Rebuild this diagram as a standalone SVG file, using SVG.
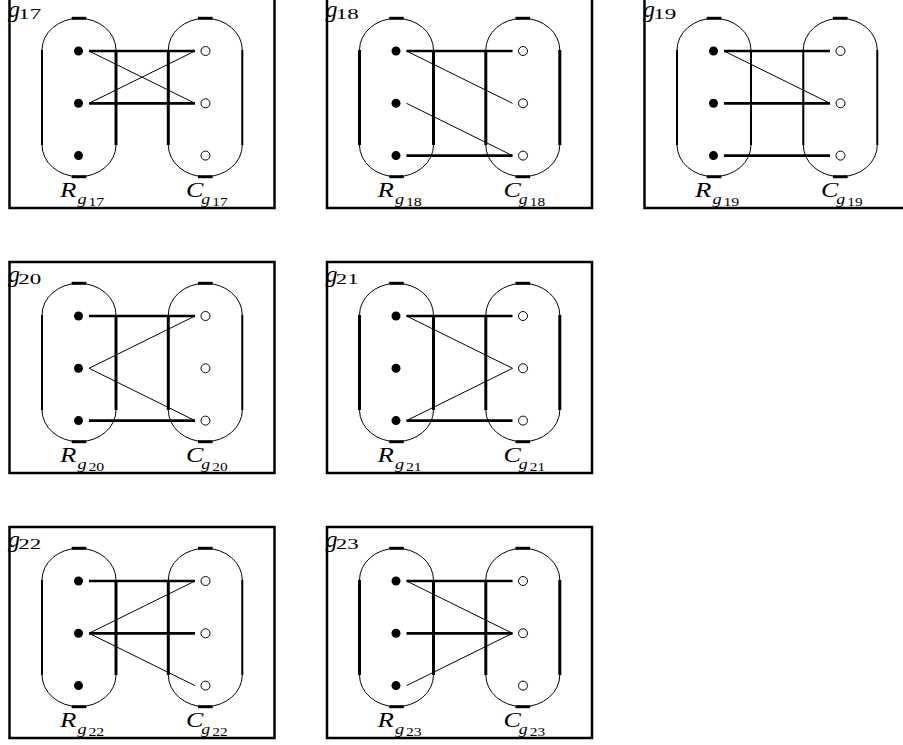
<svg xmlns="http://www.w3.org/2000/svg" xmlns:xlink="http://www.w3.org/1999/xlink" width="903" height="745" viewBox="0 0 903 745">
<style>
.frame{fill:none;stroke:#000;stroke-width:2.5}
.oval{fill:none;stroke:#000;stroke-width:1}
.side{stroke:#000;stroke-width:2}
.side.thick{stroke-width:3}
.mark{stroke:#000;stroke-width:3}
.row{fill:#000}
.col{fill:#fff;stroke:#000;stroke-width:1}
.m{stroke:#000;stroke-width:2.7;fill:none}
.e{stroke:#000;stroke-width:1;fill:none}
text{font-family:"Liberation Serif","Times New Roman",serif;fill:#000}
.it{font-style:italic}
.big{font-size:22px}
.sub{font-size:15px}
.sub2{font-size:13px}
.tg{font-size:24px;font-style:italic}
.tn{font-size:15px}
</style>
<defs>
<path id="oval" class="oval" d="M -37 53 A 37 31.7 0 0 1 37 53 L 37 148 A 37 31.7 0 0 1 -37 148 Z"/>
<g id="marks"><line class="mark" x1="-7.3" y1="21.3" x2="7.3" y2="21.3"/><line class="mark" x1="-7.3" y1="179.7" x2="7.3" y2="179.7"/></g>
<g id="nodesR"><circle class="row" cx="69" cy="54" r="4.5"/><circle class="row" cx="69" cy="106.3" r="4.5"/><circle class="row" cx="69" cy="158.6" r="4.5"/></g>
<g id="nodesC"><circle class="col" cx="196" cy="54" r="4.5"/><circle class="col" cx="196" cy="106.3" r="4.5"/><circle class="col" cx="196" cy="158.6" r="4.5"/></g>
</defs>
<rect x="0" y="0" width="903" height="745" fill="#fff"/>

<!-- g17 -->
<g id="g17" transform="translate(9.5,-3)">
<rect class="frame" x="0" y="0" width="265" height="211"/>
<g id="g17-R"><use xlink:href="#oval" x="69.5"/><use xlink:href="#marks" x="69.5"/><line class="side" x1="32.5" y1="53" x2="32.5" y2="148"/><line class="side thick" x1="106.5" y1="53" x2="106.5" y2="148"/><use xlink:href="#nodesR"/></g>
<g id="g17-C"><use xlink:href="#oval" x="195.8"/><use xlink:href="#marks" x="195.8"/><line class="side thick" x1="158.8" y1="53" x2="158.8" y2="148"/><line class="side" x1="232.8" y1="53" x2="232.8" y2="148"/><use xlink:href="#nodesC"/></g>
<g id="g17-edges"><line class="m" x1="79.5" y1="54" x2="185.5" y2="54"/><line class="m" x1="79.5" y1="106.3" x2="185.5" y2="106.3"/><line class="e" x1="79.5" y1="54" x2="185.5" y2="106.3"/><line class="e" x1="79.5" y1="106.3" x2="185.5" y2="54"/></g>
<text class="tg" x="-1.5" y="20">g</text><text class="tn" x="8.8" y="21.5" textLength="23" lengthAdjust="spacingAndGlyphs">17</text>
<text transform="translate(50.5,200) scale(1.22,1)"><tspan class="it big" x="0" y="0">R</tspan><tspan class="it sub" x="14.3" y="6.5">g</tspan><tspan class="sub2" x="23.3" y="8.5">17</tspan></text>
<text transform="translate(176.5,200) scale(1.18,1)"><tspan class="it big" x="0" y="0">C</tspan><tspan class="it sub" x="13" y="6.5">g</tspan><tspan class="sub2" x="22.3" y="8.5">17</tspan></text>
</g>

<!-- g18 -->
<g id="g18" transform="translate(327,-3)">
<rect class="frame" x="0" y="0" width="265" height="211"/>
<g id="g18-R"><use xlink:href="#oval" x="69.5"/><use xlink:href="#marks" x="69.5"/><line class="side thick" x1="32.5" y1="53" x2="32.5" y2="148"/><line class="side thick" x1="106.5" y1="53" x2="106.5" y2="148"/><use xlink:href="#nodesR"/></g>
<g id="g18-C"><use xlink:href="#oval" x="195.8"/><use xlink:href="#marks" x="195.8"/><line class="side thick" x1="158.8" y1="53" x2="158.8" y2="148"/><line class="side thick" x1="232.8" y1="53" x2="232.8" y2="148"/><use xlink:href="#nodesC"/></g>
<g id="g18-edges"><line class="m" x1="79.5" y1="54" x2="185.5" y2="54"/><line class="m" x1="79.5" y1="158.6" x2="185.5" y2="158.6"/><line class="e" x1="79.5" y1="54" x2="185.5" y2="106.3"/><line class="e" x1="79.5" y1="106.3" x2="185.5" y2="158.6"/></g>
<text class="tg" x="-1.5" y="20">g</text><text class="tn" x="8.8" y="21.5" textLength="23" lengthAdjust="spacingAndGlyphs">18</text>
<text transform="translate(50.5,200) scale(1.22,1)"><tspan class="it big" x="0" y="0">R</tspan><tspan class="it sub" x="14.3" y="6.5">g</tspan><tspan class="sub2" x="23.3" y="8.5">18</tspan></text>
<text transform="translate(176.5,200) scale(1.18,1)"><tspan class="it big" x="0" y="0">C</tspan><tspan class="it sub" x="13" y="6.5">g</tspan><tspan class="sub2" x="22.3" y="8.5">18</tspan></text>
</g>

<!-- g19 -->
<g id="g19" transform="translate(644.5,-3)">
<rect class="frame" x="0" y="0" width="265" height="211"/>
<g id="g19-R"><use xlink:href="#oval" x="69.5"/><use xlink:href="#marks" x="69.5"/><line class="side" x1="32.5" y1="53" x2="32.5" y2="148"/><line class="side" x1="106.5" y1="53" x2="106.5" y2="148"/><use xlink:href="#nodesR"/></g>
<g id="g19-C"><use xlink:href="#oval" x="195.8"/><use xlink:href="#marks" x="195.8"/><line class="side" x1="158.8" y1="53" x2="158.8" y2="148"/><line class="side" x1="232.8" y1="53" x2="232.8" y2="148"/><use xlink:href="#nodesC"/></g>
<g id="g19-edges"><line class="m" x1="79.5" y1="54" x2="185.5" y2="54"/><line class="m" x1="79.5" y1="106.3" x2="185.5" y2="106.3"/><line class="m" x1="79.5" y1="158.6" x2="185.5" y2="158.6"/><line class="e" x1="79.5" y1="54" x2="185.5" y2="106.3"/></g>
<text class="tg" x="-1.5" y="20">g</text><text class="tn" x="8.8" y="21.5" textLength="23" lengthAdjust="spacingAndGlyphs">19</text>
<text transform="translate(50.5,200) scale(1.22,1)"><tspan class="it big" x="0" y="0">R</tspan><tspan class="it sub" x="14.3" y="6.5">g</tspan><tspan class="sub2" x="23.3" y="8.5">19</tspan></text>
<text transform="translate(176.5,200) scale(1.18,1)"><tspan class="it big" x="0" y="0">C</tspan><tspan class="it sub" x="13" y="6.5">g</tspan><tspan class="sub2" x="22.3" y="8.5">19</tspan></text>
</g>

<!-- g20 -->
<g id="g20" transform="translate(9.5,262)">
<rect class="frame" x="0" y="0" width="265" height="211"/>
<g id="g20-R"><use xlink:href="#oval" x="69.5"/><use xlink:href="#marks" x="69.5"/><line class="side" x1="32.5" y1="53" x2="32.5" y2="148"/><line class="side thick" x1="106.5" y1="53" x2="106.5" y2="148"/><use xlink:href="#nodesR"/></g>
<g id="g20-C"><use xlink:href="#oval" x="195.8"/><use xlink:href="#marks" x="195.8"/><line class="side thick" x1="158.8" y1="53" x2="158.8" y2="148"/><line class="side" x1="232.8" y1="53" x2="232.8" y2="148"/><use xlink:href="#nodesC"/></g>
<g id="g20-edges"><line class="m" x1="79.5" y1="54" x2="185.5" y2="54"/><line class="m" x1="79.5" y1="158.6" x2="185.5" y2="158.6"/><line class="e" x1="79.5" y1="106.3" x2="185.5" y2="54"/><line class="e" x1="79.5" y1="106.3" x2="185.5" y2="158.6"/></g>
<text class="tg" x="-1.5" y="20">g</text><text class="tn" x="8.8" y="21.5" textLength="23" lengthAdjust="spacingAndGlyphs">20</text>
<text transform="translate(50.5,200) scale(1.22,1)"><tspan class="it big" x="0" y="0">R</tspan><tspan class="it sub" x="14.3" y="6.5">g</tspan><tspan class="sub2" x="23.3" y="8.5">20</tspan></text>
<text transform="translate(176.5,200) scale(1.18,1)"><tspan class="it big" x="0" y="0">C</tspan><tspan class="it sub" x="13" y="6.5">g</tspan><tspan class="sub2" x="22.3" y="8.5">20</tspan></text>
</g>

<!-- g21 -->
<g id="g21" transform="translate(327,262)">
<rect class="frame" x="0" y="0" width="265" height="211"/>
<g id="g21-R"><use xlink:href="#oval" x="69.5"/><use xlink:href="#marks" x="69.5"/><line class="side thick" x1="32.5" y1="53" x2="32.5" y2="148"/><line class="side thick" x1="106.5" y1="53" x2="106.5" y2="148"/><use xlink:href="#nodesR"/></g>
<g id="g21-C"><use xlink:href="#oval" x="195.8"/><use xlink:href="#marks" x="195.8"/><line class="side thick" x1="158.8" y1="53" x2="158.8" y2="148"/><line class="side thick" x1="232.8" y1="53" x2="232.8" y2="148"/><use xlink:href="#nodesC"/></g>
<g id="g21-edges"><line class="m" x1="79.5" y1="54" x2="185.5" y2="54"/><line class="m" x1="79.5" y1="158.6" x2="185.5" y2="158.6"/><line class="e" x1="79.5" y1="54" x2="185.5" y2="106.3"/><line class="e" x1="79.5" y1="158.6" x2="185.5" y2="106.3"/></g>
<text class="tg" x="-1.5" y="20">g</text><text class="tn" x="8.8" y="21.5" textLength="23" lengthAdjust="spacingAndGlyphs">21</text>
<text transform="translate(50.5,200) scale(1.22,1)"><tspan class="it big" x="0" y="0">R</tspan><tspan class="it sub" x="14.3" y="6.5">g</tspan><tspan class="sub2" x="23.3" y="8.5">21</tspan></text>
<text transform="translate(176.5,200) scale(1.18,1)"><tspan class="it big" x="0" y="0">C</tspan><tspan class="it sub" x="13" y="6.5">g</tspan><tspan class="sub2" x="22.3" y="8.5">21</tspan></text>
</g>

<!-- g22 -->
<g id="g22" transform="translate(9.5,527)">
<rect class="frame" x="0" y="0" width="265" height="211"/>
<g id="g22-R"><use xlink:href="#oval" x="69.5"/><use xlink:href="#marks" x="69.5"/><line class="side" x1="32.5" y1="53" x2="32.5" y2="148"/><line class="side thick" x1="106.5" y1="53" x2="106.5" y2="148"/><use xlink:href="#nodesR"/></g>
<g id="g22-C"><use xlink:href="#oval" x="195.8"/><use xlink:href="#marks" x="195.8"/><line class="side thick" x1="158.8" y1="53" x2="158.8" y2="148"/><line class="side" x1="232.8" y1="53" x2="232.8" y2="148"/><use xlink:href="#nodesC"/></g>
<g id="g22-edges"><line class="m" x1="79.5" y1="54" x2="185.5" y2="54"/><line class="m" x1="79.5" y1="106.3" x2="185.5" y2="106.3"/><line class="e" x1="79.5" y1="106.3" x2="185.5" y2="54"/><line class="e" x1="79.5" y1="106.3" x2="185.5" y2="158.6"/></g>
<text class="tg" x="-1.5" y="20">g</text><text class="tn" x="8.8" y="21.5" textLength="23" lengthAdjust="spacingAndGlyphs">22</text>
<text transform="translate(50.5,200) scale(1.22,1)"><tspan class="it big" x="0" y="0">R</tspan><tspan class="it sub" x="14.3" y="6.5">g</tspan><tspan class="sub2" x="23.3" y="8.5">22</tspan></text>
<text transform="translate(176.5,200) scale(1.18,1)"><tspan class="it big" x="0" y="0">C</tspan><tspan class="it sub" x="13" y="6.5">g</tspan><tspan class="sub2" x="22.3" y="8.5">22</tspan></text>
</g>

<!-- g23 -->
<g id="g23" transform="translate(327,527)">
<rect class="frame" x="0" y="0" width="265" height="211"/>
<g id="g23-R"><use xlink:href="#oval" x="69.5"/><use xlink:href="#marks" x="69.5"/><line class="side thick" x1="32.5" y1="53" x2="32.5" y2="148"/><line class="side thick" x1="106.5" y1="53" x2="106.5" y2="148"/><use xlink:href="#nodesR"/></g>
<g id="g23-C"><use xlink:href="#oval" x="195.8"/><use xlink:href="#marks" x="195.8"/><line class="side thick" x1="158.8" y1="53" x2="158.8" y2="148"/><line class="side thick" x1="232.8" y1="53" x2="232.8" y2="148"/><use xlink:href="#nodesC"/></g>
<g id="g23-edges"><line class="m" x1="79.5" y1="54" x2="185.5" y2="54"/><line class="m" x1="79.5" y1="106.3" x2="185.5" y2="106.3"/><line class="e" x1="79.5" y1="54" x2="185.5" y2="106.3"/><line class="e" x1="79.5" y1="158.6" x2="185.5" y2="106.3"/></g>
<text class="tg" x="-1.5" y="20">g</text><text class="tn" x="8.8" y="21.5" textLength="23" lengthAdjust="spacingAndGlyphs">23</text>
<text transform="translate(50.5,200) scale(1.22,1)"><tspan class="it big" x="0" y="0">R</tspan><tspan class="it sub" x="14.3" y="6.5">g</tspan><tspan class="sub2" x="23.3" y="8.5">23</tspan></text>
<text transform="translate(176.5,200) scale(1.18,1)"><tspan class="it big" x="0" y="0">C</tspan><tspan class="it sub" x="13" y="6.5">g</tspan><tspan class="sub2" x="22.3" y="8.5">23</tspan></text>
</g>
</svg>
